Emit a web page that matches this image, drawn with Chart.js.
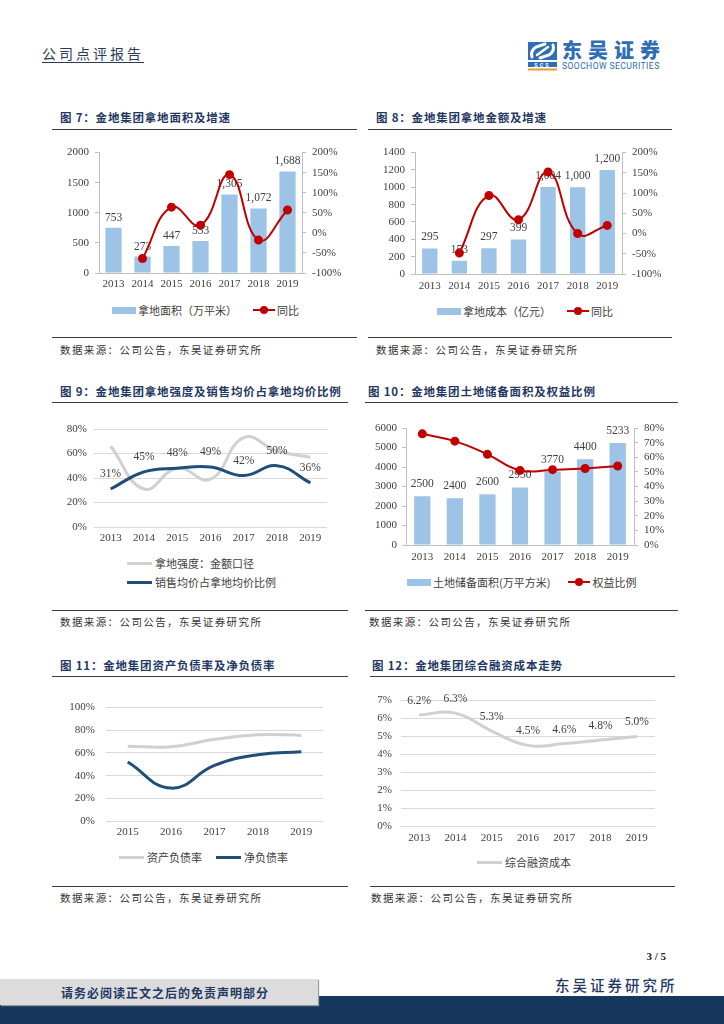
<!DOCTYPE html>
<html>
<head>
<meta charset="utf-8">
<script src="https://cdn.jsdelivr.net/npm/chart.js@4.4.0/dist/chart.umd.min.js"></script>
<style>
body { margin: 0; width: 724px; height: 1024px; position: relative; background: #fff; overflow: hidden; font-family: "Noto Sans CJK SC", sans-serif; }
canvas { position: absolute; }
.title { position: absolute; font-size: 11.5px; line-height: 16px; font-weight: bold; color: #1F3864; letter-spacing: 0.8px; white-space: nowrap; }
.rule { position: absolute; height: 0; border-top: 1.5px solid #3a3a3a; }
.src { position: absolute; font-size: 10.5px; line-height: 14px; color: #333; letter-spacing: 1.4px; white-space: nowrap; }
.legend { position: absolute; height: 16px; font-size: 11px; color: #404040; white-space: nowrap; display: flex; align-items: center; }
.sw-bar { display: inline-block; width: 24px; height: 7px; background: #9DC3E6; margin-right: 2px; }
.sw-line { display: inline-block; position: relative; width: 22px; height: 2px; background: #C00000; margin-right: 2px; }
.sw-line i { position: absolute; left: 7px; top: -3px; width: 8px; height: 8px; border-radius: 50%; background: #C00000; }
.sw-thick { display: inline-block; width: 25px; height: 3px; margin-right: 3px; }
</style>
</head>
<body>

<!-- header -->
<div style="position:absolute;left:42px;top:43px;font-size:14px;letter-spacing:3px;color:#2b3a55;text-decoration:underline;text-underline-offset:3px;">公司点评报告</div>
<svg style="position:absolute;left:528px;top:42px" width="30" height="29">
  <rect x="0" y="0" width="29" height="18" fill="#2F6DB5"/>
  <path d="M4 15 Q2 9 8 5 L17 2" stroke="#fff" stroke-width="3" fill="none" stroke-linecap="round"/>
  <path d="M25 3 Q27 9 21 13 L12 16" stroke="#fff" stroke-width="3" fill="none" stroke-linecap="round"/>
  <path d="M9 13 L20 5" stroke="#fff" stroke-width="2.5" stroke-linecap="round"/>
  <rect x="0" y="20" width="29" height="5" fill="#2F6DB5"/>
  <text x="14.5" y="24.5" text-anchor="middle" font-size="5.5" font-family="Roboto,sans-serif" font-weight="bold" fill="#fff" letter-spacing="2">SCS</text>
  <rect x="0" y="26.5" width="29" height="2" fill="#E89B2E"/>
</svg>
<div style="position:absolute;left:562px;top:37px;font-size:20px;line-height:26px;font-weight:900;letter-spacing:6px;color:#2F6DB5;">东吴证券</div>
<div style="position:absolute;left:562px;top:61px;font-size:8.6px;line-height:10px;font-family:Roboto,sans-serif;color:#2F6DB5;letter-spacing:0.4px;">SOOCHOW SECURITIES</div>

<!-- titles & rules -->
<div class="title" style="left:60px;top:109px;">图 7：金地集团拿地面积及增速</div>
<div class="rule" style="left:52px;top:129px;width:305px;"></div>
<div class="rule" style="left:52px;top:337px;width:305px;"></div>
<div class="src" style="left:60px;top:343px;">数据来源：公司公告，东吴证券研究所</div>

<div class="title" style="left:376px;top:109px;">图 8：金地集团拿地金额及增速</div>
<div class="rule" style="left:368px;top:129px;width:304px;"></div>
<div class="rule" style="left:368px;top:337px;width:304px;"></div>
<div class="src" style="left:376px;top:343px;">数据来源：公司公告，东吴证券研究所</div>

<div class="title" style="left:60px;top:383px;">图 9：金地集团拿地强度及销售均价占拿地均价比例</div>
<div class="rule" style="left:52px;top:402px;width:296px;"></div>
<div class="rule" style="left:52px;top:610px;width:296px;"></div>
<div class="src" style="left:60px;top:615px;">数据来源：公司公告，东吴证券研究所</div>

<div class="title" style="left:368px;top:383px;">图 10：金地集团土地储备面积及权益比例</div>
<div class="rule" style="left:365px;top:402px;width:313px;"></div>
<div class="rule" style="left:365px;top:610px;width:313px;"></div>
<div class="src" style="left:369px;top:615px;">数据来源：公司公告，东吴证券研究所</div>

<div class="title" style="left:60px;top:657px;">图 11：金地集团资产负债率及净负债率</div>
<div class="rule" style="left:52px;top:676px;width:296px;"></div>
<div class="rule" style="left:52px;top:886px;width:296px;"></div>
<div class="src" style="left:60px;top:891px;">数据来源：公司公告，东吴证券研究所</div>

<div class="title" style="left:372px;top:657px;">图 12：金地集团综合融资成本走势</div>
<div class="rule" style="left:370px;top:676px;width:305px;"></div>
<div class="rule" style="left:370px;top:886px;width:305px;"></div>
<div class="src" style="left:371px;top:891px;">数据来源：公司公告，东吴证券研究所</div>

<!-- charts -->
<canvas id="c7" width="310" height="155" style="left:50px;top:140px;"></canvas>
<canvas id="c8" width="310" height="156" style="left:365px;top:140px;"></canvas>
<canvas id="c9" width="310" height="135" style="left:50px;top:415px;"></canvas>
<canvas id="c10" width="320" height="152" style="left:365px;top:415px;"></canvas>
<canvas id="c11" width="310" height="155" style="left:50px;top:690px;"></canvas>
<canvas id="c12" width="320" height="165" style="left:365px;top:685px;"></canvas>

<!-- legends -->
<div class="legend" style="left:112px;top:302px;"><span class="sw-bar"></span><span style="margin-right:16px;">拿地面积（万平米）</span><span class="sw-line"><i></i></span>同比</div>
<div class="legend" style="left:437px;top:303px;"><span class="sw-bar"></span><span style="margin-right:16px;">拿地成本（亿元）</span><span class="sw-line"><i></i></span>同比</div>
<div class="legend" style="left:127px;top:555px;"><span class="sw-thick" style="background:#D0D0D0"></span>拿地强度：金额口径</div>
<div class="legend" style="left:127px;top:574px;"><span class="sw-thick" style="background:#1F4E79"></span>销售均价占拿地均价比例</div>
<div class="legend" style="left:407px;top:574px;"><span class="sw-bar"></span><span style="margin-right:18px;">土地储备面积(万平方米)</span><span class="sw-line"><i></i></span>权益比例</div>
<div class="legend" style="left:119px;top:849px;"><span class="sw-thick" style="background:#D0D0D0"></span><span style="margin-right:14px;">资产负债率</span><span class="sw-thick" style="background:#1F4E79"></span>净负债率</div>
<div class="legend" style="left:477px;top:854px;"><span class="sw-thick" style="background:#D0D0D0"></span>综合融资成本</div>

<!-- footer -->
<div style="position:absolute;left:640px;top:950px;width:26px;text-align:right;font-family:'Liberation Serif',serif;font-weight:bold;font-size:11px;color:#222;">3 / 5</div>
<div style="position:absolute;left:555px;top:974px;font-size:14.5px;letter-spacing:3px;color:#1F3864;font-weight:500;">东吴证券研究所</div>
<div style="position:absolute;left:0;top:996px;width:724px;height:28px;background:#17375E;"></div>
<div style="position:absolute;left:0;top:979px;width:318px;height:26px;background:#DCDCDC;box-shadow:1px 1px 1px #999;"></div>
<div style="position:absolute;left:0;top:984px;width:330px;text-align:center;font-size:12px;font-weight:bold;letter-spacing:1px;color:#1F3864;">请务必阅读正文之后的免责声明部分</div>

<script>
// common categories
const years = ['2013', '2014', '2015', '2016', '2017', '2018', '2019'];
const years11 = ['2015', '2016', '2017', '2018', '2019'];

// 图7 拿地面积(万平米) and 同比(%)
const landArea = [753, 273, 447, 533, 1305, 1072, 1688];
const landAreaYoY = [null, -64, 64, 19, 145, -18, 57];

// 图8 拿地成本(亿元) and 同比(%)
const landCost = [295, 153, 297, 399, 1004, 1000, 1200];
const landCostYoY = [null, -48, 94, 34, 152, 0, 20];

// 图9 拿地强度 and 销售均价占拿地均价比例(%)
const landIntensity = [66, 31, 48, 39, 73, 62, 57];
const priceRatio = [31, 45, 48, 49, 42, 50, 36];

// 图10 土地储备面积(万平方米) and 权益比例(%)
const landBank = [2500, 2400, 2600, 2950, 3770, 4400, 5233];
const equityRatio = [76, 71, 62, 51, 51.5, 52.3, 54];

// 图11 资产负债率 / 净负债率 (%)
const assetLiabRatio = [66, 65.5, 72, 76, 75.5];
const netDebtRatio = [52, 29, 49, 58.5, 61];

// 图12 综合融资成本 (%)
const financeCost = [6.2, 6.3, 5.3, 4.5, 4.6, 4.8, 5.0];

const RED = '#C00000';
const BAR_BLUE = '#9DC3E6';
const NAVY = '#1F4E79';
const GREY = '#D0D0D0';
const AXIS = '#BFBFBF';

Chart.defaults.font.family = '"Liberation Serif", "Times New Roman", serif';
Chart.defaults.font.size = 11;
Chart.defaults.color = '#404040';

// draws value labels for a dataset right after it is drawn
const valueLabels = {
    id: 'valueLabels',
    afterDatasetDraw(chart, args) {
        const ds = chart.data.datasets[args.index];
        const cfg = ds.valueLabel;
        if (!cfg) return;
        const ctx = chart.ctx;
        ctx.save();
        ctx.font = '11.5px "Liberation Serif", serif';
        ctx.fillStyle = '#404040';
        ctx.textAlign = 'center';
        ctx.textBaseline = 'middle';
        args.meta.data.forEach((el, i) => {
            if (ds.data[i] == null) return;
            ctx.fillText(cfg.format(ds.data[i]), el.x, el.y - cfg.offset);
        });
        ctx.restore();
    }
};

// bar + line on a secondary % axis
function comboChart(id, o) {
    new Chart(document.getElementById(id), {
        data: {
            labels: o.labels,
            datasets: [
                {
                    type: 'line', data: o.line, yAxisID: 'y1', order: 0,
                    borderColor: RED, backgroundColor: RED, borderWidth: 2,
                    pointRadius: 3.5, pointBackgroundColor: RED, pointBorderColor: RED,
                    tension: 0.45
                },
                {
                    type: 'bar', data: o.bars, yAxisID: 'y', order: 1,
                    backgroundColor: BAR_BLUE, barPercentage: o.barPct, categoryPercentage: 1,
                    valueLabel: { format: o.fmt, offset: o.labelOffset }
                }
            ]
        },
        options: {
            responsive: false,
            animation: false,
            layout: { padding: { top: o.padTop } },
            plugins: { legend: { display: false }, tooltip: { enabled: false } },
            scales: {
                x: {
                    grid: { display: false, drawTicks: false },
                    border: { color: AXIS },
                    ticks: { padding: o.xPad },
                    afterFit: s => { s.height = o.xH; }
                },
                y: {
                    position: 'left', min: 0, max: o.yMax,
                    ticks: { stepSize: o.yStep, padding: o.yPad, autoSkip: false, callback: v => String(v) },
                    grid: { drawOnChartArea: false, tickLength: 4, color: AXIS },
                    border: { color: AXIS },
                    afterFit: s => { s.width = o.leftW; }
                },
                y1: {
                    position: 'right', min: o.rMin, max: o.rMax,
                    ticks: { stepSize: o.rStep, padding: 6, autoSkip: false, callback: v => v + '%' },
                    grid: { drawOnChartArea: false, tickLength: 4, color: AXIS },
                    border: { color: AXIS },
                    afterFit: s => { s.width = o.rightW; }
                }
            }
        },
        plugins: [valueLabels]
    });
}

// plain % line chart with horizontal gridlines
function lineChart(id, o) {
    new Chart(document.getElementById(id), {
        type: 'line',
        data: {
            labels: o.labels,
            datasets: o.series.map(s => ({
                data: s.data, borderColor: s.color, backgroundColor: s.color,
                borderWidth: 3, pointRadius: 0, tension: 0.45, order: s.order,
                valueLabel: s.valueLabel
            }))
        },
        options: {
            responsive: false,
            animation: false,
            layout: { padding: { top: o.padTop, right: o.padRight } },
            plugins: { legend: { display: false }, tooltip: { enabled: false } },
            scales: {
                x: {
                    offset: true,
                    grid: { display: false, drawTicks: false },
                    border: { display: false },
                    ticks: { padding: o.xPad },
                    afterFit: s => { s.height = o.xH; }
                },
                y: {
                    min: 0, max: o.yMax,
                    ticks: { stepSize: o.yStep, padding: o.yPad, autoSkip: false, callback: v => v + '%' },
                    grid: { color: '#D9D9D9', drawTicks: false },
                    border: { display: false },
                    afterFit: s => { s.width = o.leftW; }
                }
            }
        },
        plugins: [valueLabels]
    });
}

const withComma = v => v.toLocaleString('en-US');

comboChart('c7', {
    labels: years, bars: landArea, line: landAreaYoY, fmt: withComma, labelOffset: 10,
    barPct: 0.56, padTop: 12, xPad: 5, xH: 22, leftW: 49, rightW: 58, yPad: 6,
    yMax: 2000, yStep: 500, rMin: -100, rMax: 200, rStep: 50
});

comboChart('c8', {
    labels: years, bars: landCost, line: landCostYoY, fmt: withComma, labelOffset: 11,
    barPct: 0.52, padTop: 12, xPad: 6, xH: 22, leftW: 50, rightW: 53, yPad: 6,
    yMax: 1400, yStep: 200, rMin: -100, rMax: 200, rStep: 50
});

lineChart('c9', {
    labels: years, padTop: 14, padRight: 33, xPad: 5, xH: 23, leftW: 44, yPad: 7,
    yMax: 80, yStep: 20,
    series: [
        { data: landIntensity, color: GREY, order: 1 },
        { data: priceRatio, color: NAVY, order: 0, valueLabel: { format: v => v + '%', offset: 15 } }
    ]
});

comboChart('c10', {
    labels: years, bars: landBank, line: equityRatio, fmt: v => String(v), labelOffset: 12,
    barPct: 0.5, padTop: 13, xPad: 6, xH: 22, leftW: 41, rightW: 51, yPad: 5,
    yMax: 6000, yStep: 1000, rMin: 0, rMax: 80, rStep: 10
});

lineChart('c11', {
    labels: years11, padTop: 12, padRight: 37, xPad: 5, xH: 24, leftW: 56, yPad: 11,
    yMax: 100, yStep: 20,
    series: [
        { data: assetLiabRatio, color: GREY, order: 1 },
        { data: netDebtRatio, color: NAVY, order: 0 }
    ]
});

lineChart('c12', {
    labels: years, padTop: 12, padRight: 30, xPad: 6, xH: 24, leftW: 36, yPad: 9,
    yMax: 7, yStep: 1,
    series: [
        { data: financeCost, color: GREY, order: 0, valueLabel: { format: v => v.toFixed(1) + '%', offset: 14 } }
    ]
});
</script>
</body>
</html>
